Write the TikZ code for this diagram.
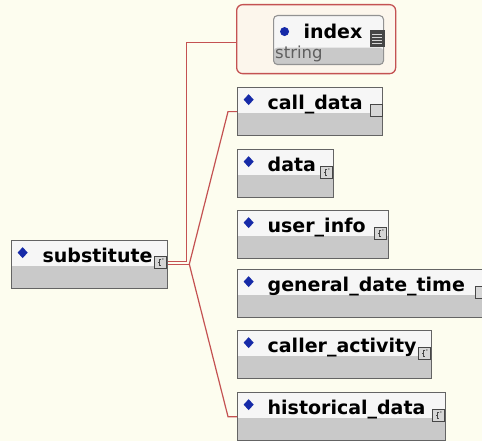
\documentclass[tikz,border=0pt]{standalone}
\usepackage{fontspec}
\setmainfont{DejaVu Sans}
\usepackage{tikz}

\definecolor{bg}{RGB}{253,253,239}
\definecolor{grpfill}{RGB}{252,246,236}
\definecolor{linkred}{RGB}{196,82,82}
\definecolor{boxline}{RGB}{100,100,100}
\definecolor{toprow}{RGB}{246,246,246}
\definecolor{lowrow}{RGB}{201,201,201}
\definecolor{markblue}{RGB}{22,42,168}
\definecolor{icofill}{RGB}{214,214,214}
\definecolor{icoline}{RGB}{70,70,70}
\definecolor{typegray}{RGB}{95,95,95}

\begin{document}
\begin{tikzpicture}[x=1pt, y=-1pt]
	\tikzset{
		elem/.style={draw=boxline, line width=1.3pt, fill=toprow, anchor=north west,
			inner xsep=0pt, inner ysep=0pt, text height=22pt, text depth=26pt, align=left,
			font=\fontsize{19}{22}\selectfont\bfseries,
			path picture={
				\fill[lowrow] ([yshift=-25pt]path picture bounding box.north west) rectangle (path picture bounding box.south east);
				\fill[markblue] ([shift={(11pt,-12pt)}]path picture bounding box.north west) +(-5pt,0) -- +(0,5.5pt) -- +(5pt,0) -- +(0,-5.5pt) -- cycle;}},
		attr/.style={draw=boxline!70, line width=1.1pt, fill=toprow, rounded corners=4pt, anchor=north west,
			inner xsep=0pt, inner ysep=0pt, text height=23pt, text depth=26pt, align=left,
			font=\fontsize{19}{22}\selectfont\bfseries,
			path picture={
				\fill[lowrow] ([yshift=-32pt]path picture bounding box.north west) rectangle (path picture bounding box.south east);
				\fill[markblue] ([shift={(11pt,-16pt)}]path picture bounding box.north west) circle (4.5pt);}},
		grp/.style={draw=linkred, line width=1.3pt, fill=grpfill, rounded corners=6pt, anchor=north west,
			minimum width=159pt, minimum height=69pt, inner sep=0pt},
		ico/.style={draw=icoline, line width=.8pt, fill=icofill, minimum size=12pt, inner sep=0pt},
		cplx/.style={ico, path picture={
				\draw[icoline, line width=.6pt] ([shift={(7pt,-3pt)}]path picture bounding box.north west) -- ++(-2pt,0) -- ++(0,-6pt) -- ++(2pt,0)
					([shift={(5pt,-6pt)}]path picture bounding box.north west) -- ++(-1.5pt,0);
				\fill[icoline] ([shift={(8.5pt,-3pt)}]path picture bounding box.north west) circle (.7pt);}},
		listico/.style={draw=icoline, line width=.6pt, fill=icoline, minimum width=14pt, minimum height=16pt, inner sep=0pt,
			path picture={
				\foreach \k in {4,7,10,13}
					\draw[icofill, line width=1pt] ([shift={(2pt,-\k pt)}]path picture bounding box.north west) -- ++(10pt,0);}},
		link/.style={draw=linkred, line width=1.2pt}
	}
	\useasboundingbox[fill=bg] (0,0) rectangle (482,441);

	\node[grp] (grp) at (236,4) {};
	\node[attr, text width=110pt] (index) at (273,15) {\hspace*{30pt}index};
	\node[listico] (index-ico) at ([shift={(-7pt,-23.5pt)}]index.north east) {};
	\node[anchor=base west, font=\fontsize{16.5}{18}\selectfont, text=typegray, inner sep=0pt] (index-type) at (275,59) {string};

	\node[elem, text width=156pt] (substitute) at (11,240)  {\hspace*{31pt}substitute};
	\node[elem, text width=145pt] (calldata)   at (237,87)  {\hspace*{30pt}call\_data};
	\node[elem, text width=96pt]  (data)       at (237,149) {\hspace*{30pt}data};
	\node[elem, text width=151pt] (userinfo)   at (237,210) {\hspace*{30pt}user\_info};
	\node[elem, text width=250pt] (generaldt)  at (237,269) {\hspace*{30pt}general\_date\_time};
	\node[elem, text width=194pt] (caller)     at (237,330) {\hspace*{30pt}caller\_activity};
	\node[elem, text width=208pt] (historical) at (237,392) {\hspace*{30pt}historical\_data};

	\node[cplx] (substitute-ico) at ([shift={(-8pt,-22pt)}]substitute.north east) {};
	\node[ico]  (calldata-ico)   at ([shift={(-7pt,-23pt)}]calldata.north east) {};
	\node[cplx] (data-ico)       at ([shift={(-8pt,-23pt)}]data.north east) {};
	\node[cplx] (userinfo-ico)   at ([shift={(-9pt,-23pt)}]userinfo.north east) {};
	\node[ico]  (generaldt-ico)  at ([shift={(-7pt,-23pt)}]generaldt.north east) {};
	\node[cplx] (caller-ico)     at ([shift={(-8pt,-23pt)}]caller.north east) {};
	\node[cplx] (historical-ico) at ([shift={(-8pt,-23pt)}]historical.north east) {};

	\draw[link] ([yshift=3.5pt]substitute.east) -- ++(18pt,0) |- ([yshift=-3pt]grp.west);
	\draw[link] ([yshift=.5pt]substitute.east) -- ++(21pt,0) coordinate (fan);
	\draw[link] (calldata.west) -- ++(-9pt,0) -- (fan) -- ([xshift=-9pt]historical.west) -- (historical.west);
\end{tikzpicture}
\end{document}
